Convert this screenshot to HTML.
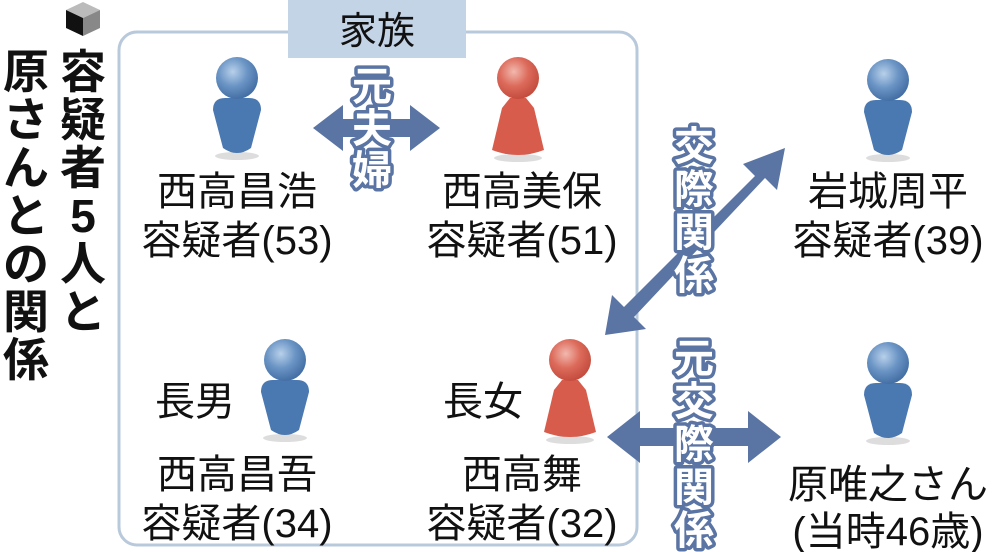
<!DOCTYPE html>
<html><head><meta charset="utf-8"><style>
html,body{margin:0;padding:0;background:#fff;}
svg{display:block;}
text{font-family:"Liberation Sans","Noto Sans CJK JP",sans-serif;}
</style></head><body>
<svg width="1000" height="552" viewBox="0 0 1000 552" xmlns="http://www.w3.org/2000/svg">
<defs>
<radialGradient id="hb" cx="0.4" cy="0.35" r="0.7"><stop offset="0" stop-color="#b8d0ea"/><stop offset="0.5" stop-color="#6a94c4"/><stop offset="1" stop-color="#3f6aa0"/></radialGradient>
<radialGradient id="hr" cx="0.4" cy="0.35" r="0.7"><stop offset="0" stop-color="#f2b8ae"/><stop offset="0.5" stop-color="#dc6a5a"/><stop offset="1" stop-color="#c0483a"/></radialGradient>
<g id="pb"><ellipse cx="0" cy="78" rx="22" ry="4" fill="#ddd"/><path d="M-24,32 Q-24,20 -12,20 L12,20 Q24,20 24,32 L14,70 Q0,80 -14,70 Z" fill="#4a78b0"/><circle cx="0" cy="0" r="21" fill="url(#hb)"/></g>
<g id="pr"><ellipse cx="0" cy="80" rx="24" ry="4" fill="#ddd"/><path d="M-8,20 L8,20 L16,30 L26,72 Q0,82 -26,72 L-16,30 Z" fill="#d85c4c"/><circle cx="0" cy="0" r="21" fill="url(#hr)"/></g>
</defs>
<!-- title icon -->
<polygon points="83,2 100,10 83,18 66,10" fill="#bbb"/>
<polygon points="66,10 83,18 83,36 66,28" fill="#111"/>
<polygon points="100,10 83,18 83,36 100,28" fill="#888"/>
<g font-size="46" font-weight="bold" fill="#111" text-anchor="middle">
<text x="83" y="88">容</text><text x="83" y="136">疑</text><text x="83" y="184">者</text><text x="83" y="232">5</text><text x="83" y="280">人</text><text x="83" y="328">と</text>
<text x="26" y="88">原</text><text x="26" y="136">さ</text><text x="26" y="184">ん</text><text x="26" y="232">と</text><text x="26" y="280">の</text><text x="26" y="328">関</text><text x="26" y="376">係</text>
</g>
<!-- family box -->
<rect x="119" y="32" width="518" height="513" rx="18" fill="none" stroke="#b9c9dc" stroke-width="3"/>
<rect x="288" y="0" width="178" height="58" fill="#c4d4e7"/>
<text x="377" y="44" font-size="38" text-anchor="middle" fill="#111">家族</text>
<!-- persons -->
<use href="#pb" x="237" y="78"/>
<use href="#pr" x="518" y="78"/>
<use href="#pb" x="888" y="80"/>
<use href="#pb" x="285" y="360"/>
<use href="#pr" x="570" y="360"/>
<use href="#pb" x="888" y="363"/>
<!-- arrows -->
<g fill="#5a74a3">
<polygon points="313,128 343,105 343,119 410,119 410,105 440,128 410,151 410,137 343,137 343,151"/>
<polygon points="607,437 640,411 640,428 748,428 748,411 781,437 748,463 748,446 640,446 640,463"/>
<polygon points="605,335 612,295 624,307 755,176 743,164 785,148 777,190 765,178 634,317 646,329"/>
</g>
<!-- vertical labels -->
<g font-size="40" font-weight="bold" fill="#fff" stroke="#5a74a3" stroke-width="7" paint-order="stroke" stroke-linejoin="round" text-anchor="middle">
<text x="372" y="100">元</text><text x="372" y="142">夫</text><text x="372" y="184">婦</text>
<text x="694" y="160">交</text><text x="694" y="203">際</text><text x="694" y="246">関</text><text x="694" y="289">係</text>
<text x="694" y="372">元</text><text x="694" y="415">交</text><text x="694" y="458">際</text><text x="694" y="501">関</text><text x="694" y="544">係</text>
</g>
<!-- names -->
<g font-size="40" fill="#111" text-anchor="middle">
<text x="237" y="205">西高昌浩</text><text x="237" y="254">容疑者(53)</text>
<text x="522" y="205">西高美保</text><text x="522" y="254">容疑者(51)</text>
<text x="888" y="205">岩城周平</text><text x="888" y="254">容疑者(39)</text>
<text x="195" y="415">長男</text><text x="483" y="415">長女</text>
<text x="237" y="488">西高昌吾</text><text x="237" y="537">容疑者(34)</text>
<text x="522" y="488">西高舞</text><text x="522" y="537">容疑者(32)</text>
<text x="888" y="498">原唯之さん</text><text x="888" y="545">(当時46歳)</text>
</g>
</svg>
</body></html>
